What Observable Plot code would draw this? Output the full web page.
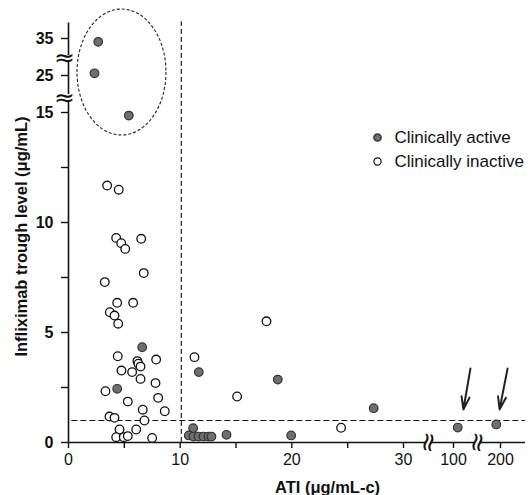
<!DOCTYPE html>
<html><head><meta charset="utf-8">
<script src="https://cdn.jsdelivr.net/npm/d3@7"></script>
<script src="https://cdn.jsdelivr.net/npm/@observablehq/plot@0.6"></script>
<style>body{margin:0;background:#fff}</style>
</head><body><div id="chart"></div>
<script>
// Clinically active patients (ATI µg/mL-c, infliximab trough µg/mL)
const activeATI    = [2.66, 2.33, 5.40, 6.60, 4.36, 11.67, 18.74, 11.16, 10.77, 11.19, 11.64, 12.09, 12.53, 12.80, 14.15, 19.94, 27.33, 109, 191];
const activeTrough = [34.1, 25.6, 14.86, 4.33, 2.44, 3.20, 2.86, 0.65, 0.32, 0.27, 0.27, 0.27, 0.27, 0.27, 0.35, 0.32, 1.56, 0.68, 0.82];
// Clinically inactive patients
const inactiveATI    = [3.46, 4.50, 4.27, 4.72, 5.08, 6.51, 6.74, 3.25, 4.36, 5.79, 3.70, 4.12, 4.45, 4.41, 7.85, 6.17, 6.26, 6.45, 4.74, 5.70, 6.45, 7.79, 3.31, 5.31, 8.03, 6.65, 8.62, 3.67, 4.12, 6.80, 4.57, 6.06, 4.27, 4.95, 5.31, 7.49, 11.28, 17.73, 15.10, 24.41];
const inactiveTrough = [11.68, 11.49, 9.30, 9.06, 8.80, 9.26, 7.70, 7.29, 6.35, 6.35, 5.92, 5.77, 5.40, 3.92, 3.77, 3.70, 3.58, 3.45, 3.27, 3.20, 2.89, 2.70, 2.33, 1.86, 2.03, 1.49, 1.42, 1.18, 1.12, 1.00, 0.59, 0.59, 0.24, 0.24, 0.29, 0.21, 3.88, 5.51, 2.09, 0.67];

const xTicks = [0, 5, 10, 15, 20, 25, 30, 100, 200];
const xTickLabels = ["0", "", "10", "", "20", "", "30", "100", "200"];
const yTicks = [0, 2.5, 5, 7.5, 10, 12.5, 15, 25, 35];
const yTickLabels = ["0", "", "5", "", "10", "", "15", "25", "35"];

const xDomain = [0, 30, 100, 200];
const yDomain = [0, 15, 25, 35];

const xBreaks = [65, 151];
const yBreaks = [19.05, 29.6];
const xAxisSegments = [[0, 61], [69, 145], [157, 253]];
const yAxisSegments = [[0, 18.25], [19.85, 28.8], [30.4, 39.2]];

const atiCutoff = 10.1;
const troughCutoff = 1.0;

const arrowStartATI = [136, 215], arrowEndATI = [121, 198];
const arrowStartTrough = [3.36, 3.36], arrowEndTrough = [1.5, 1.5];

const circledATI = 4.79, circledTrough = 25.8;

const legendLabels = ["Clinically active", "Clinically inactive"];
const xLabel = "ATI (μg/mL-c)";
const yLabel = "Infliximab trough level (μg/mL)";

const active = activeATI.map((x, i) => ({x, y: activeTrough[i]}));
const inactive = inactiveATI.map((x, i) => ({x, y: inactiveTrough[i]}));
const arrows = arrowStartATI.map((x1, i) => ({x1, x2: arrowEndATI[i], y1: arrowStartTrough[i], y2: arrowEndTrough[i]}));

const font = "'Liberation Sans', Arial, sans-serif";

function ellipseMark(index, scales) {
  const e = document.createElementNS("http://www.w3.org/2000/svg", "ellipse");
  e.setAttribute("cx", scales.x(circledATI));
  e.setAttribute("cy", scales.y(circledTrough));
  e.setAttribute("rx", 44.5);
  e.setAttribute("ry", 63);
  e.setAttribute("fill", "none");
  e.setAttribute("stroke", "#222");
  e.setAttribute("stroke-width", 1.1);
  e.setAttribute("stroke-dasharray", "3,2");
  return e;
}

const chart = Plot.plot({
  width: 530,
  height: 495,
  marginLeft: 68,
  marginBottom: 53,
  marginTop: 30,
  marginRight: 5,
  style: {fontFamily: font, fontSize: "16px", color: "#111", background: "#fff"},
  x: {type: "linear", domain: xDomain, range: [68, 403, 453, 500]},
  y: {type: "linear", domain: yDomain, range: [442, 112, 75, 38]},
  marks: [
    // axis lines with breaks
    Plot.ruleY(xAxisSegments, {y: d => 0, x1: d => d[0], x2: d => d[1], stroke: "#111", strokeWidth: 1.6}),
    Plot.ruleX(yAxisSegments, {x: d => 0, y1: d => d[0], y2: d => d[1], stroke: "#111", strokeWidth: 1.6}),
    Plot.axisX({ticks: xTicks, tickFormat: (d) => xTickLabels[xTicks.indexOf(d)], tickSize: 6, tickPadding: 5, fontSize: 16, label: null, strokeWidth: 1.4}),
    Plot.axisY({ticks: yTicks, tickFormat: (d) => yTickLabels[yTicks.indexOf(d)], tickSize: 7, tickPadding: 8, fontSize: 16, fontWeight: "bold", label: null, strokeWidth: 1.4}),
    // break symbols
    Plot.text(yBreaks, {x: d => 0, y: d => d, text: d => "≈", fontSize: 25, dx: -4, fill: "#111", fontFamily: "DejaVu Sans"}),
    Plot.text(xBreaks, {x: d => d, y: d => 0, text: d => "≈", fontSize: 26, rotate: 100, fill: "#111", fontFamily: "DejaVu Sans"}),
    // reference lines
    Plot.ruleX([atiCutoff], {y1: d => 0, y2: d => 39.5, stroke: "#111", strokeWidth: 1.1, strokeDasharray: "5,3"}),
    Plot.ruleY([troughCutoff], {x1: d => 0.3, x2: d => 253, stroke: "#111", strokeWidth: 1.1, strokeDasharray: "6,3"}),
    ellipseMark,
    // data
    Plot.dot(inactive, {x: "x", y: "y", r: 4.3, fill: "#fff", stroke: "#111", strokeWidth: 1.3}),
    Plot.dot(active, {x: "x", y: "y", r: 4.3, fill: "#6f6f6f", stroke: "#333", strokeWidth: 1.2}),
    Plot.arrow(arrows, {x1: "x1", y1: "y1", x2: "x2", y2: "y2", stroke: "#222", strokeWidth: 2, headLength: 10, headAngle: 35}),
    // legend
    Plot.dot([legendLabels[0]], {frameAnchor: "top-left", dx: 309, dy: 107, r: 3.6, fill: "#6f6f6f", stroke: "#333"}),
    Plot.dot([legendLabels[1]], {frameAnchor: "top-left", dx: 309, dy: 131, r: 3.6, fill: "#fff", stroke: "#111", strokeWidth: 1.2}),
    Plot.text([legendLabels[0]], {text: d => d, frameAnchor: "top-left", dx: 326, dy: 107, textAnchor: "start", lineAnchor: "middle", fontSize: 17, fill: "#111"}),
    Plot.text([legendLabels[1]], {text: d => d, frameAnchor: "top-left", dx: 326, dy: 131, textAnchor: "start", lineAnchor: "middle", fontSize: 17, fill: "#111"}),
    // axis titles
    Plot.text([xLabel], {text: d => d, frameAnchor: "bottom", dx: 30.5, dy: 45, textAnchor: "middle", lineAnchor: "middle", fontSize: 16.5, fontWeight: "bold", fill: "#111"}),
    Plot.text([yLabel], {text: d => d, frameAnchor: "left", dx: -47, rotate: -90, textAnchor: "middle", lineAnchor: "middle", fontSize: 16.5, fontWeight: "bold", fill: "#111"})
  ]
});
document.getElementById("chart").appendChild(chart);
</script>
</body></html>
